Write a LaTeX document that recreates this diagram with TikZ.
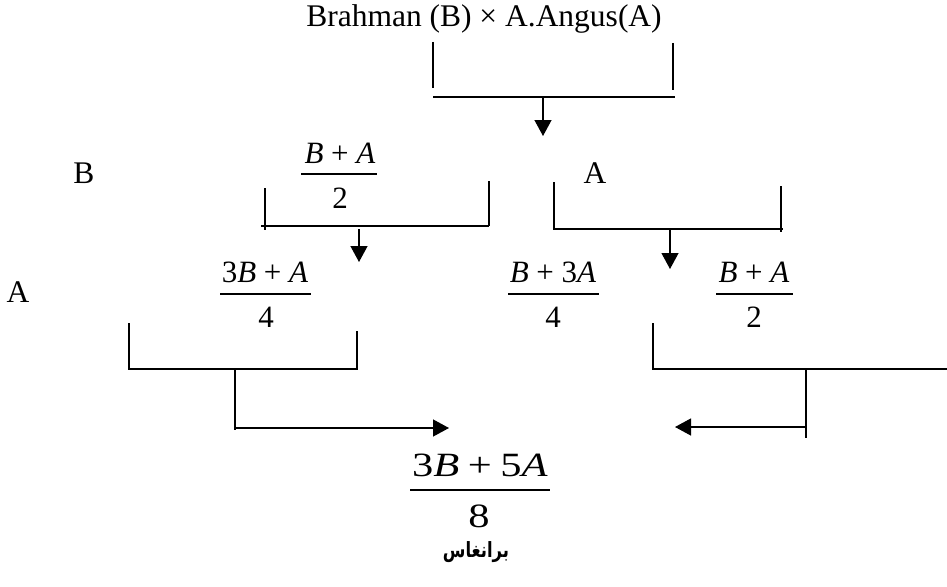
\documentclass[tikz,border=0pt]{standalone}
\usepackage{fontspec}
\setmainfont{Liberation Serif}
\newfontfamily\eqbig[FakeStretch=1.25]{Liberation Serif}
\newfontfamily\arabicfont[Script=Arabic,FakeStretch=0.78]{DejaVu Sans}
\TeXXeTstate=1
\usetikzlibrary{arrows.meta}
\newcommand\pl{\hspace{.25em}+\hspace{.25em}}
\tikzset{
  lab/.style={inner sep=0pt, anchor=base, font=\fontsize{31.5}{36}\selectfont},
  num/.style={inner sep=0pt, anchor=base, font={\fontsize{31}{36}\selectfont}},
  numbig/.style={inner sep=0pt, anchor=base, font={\eqbig\fontsize{34}{40}\selectfont}},
  arab/.style={inner sep=0pt, anchor=base, font={\arabicfont\bfseries\fontsize{21}{26}\selectfont}},
  ln/.style={line width=1.3pt},
  rul/.style={line width=1.1pt},
  arr/.style={line width=1.3pt, -{Triangle[width=17pt,length=16pt]}}
}
\begin{document}
\begin{tikzpicture}[x=1pt,y=-1pt]
\useasboundingbox (0,0) rectangle (947,586);
% title and labels
\node[lab] (title) at (484,27) {Brahman (B) × A.Angus(A)};
\node[lab] (lB) at (84,183) {B};
\node[lab] (lA1) at (18,302) {A};
\node[lab] (lA2) at (595,183) {A};
% fraction 1: (B+A)/2
\node[num] (f1n) at (340,163) {\textit{B}\pl\textit{A}};
\draw[rul] (301,174) -- (377,174);
\node[num] (f1d) at (340,208) {2};
% fraction 2: (3B+A)/4
\node[num] (f2n) at (265,282) {3\textit{B}\pl\textit{A}};
\draw[rul] (220,294) -- (311,294);
\node[num] (f2d) at (266,327) {4};
% fraction 3: (B+3A)/4
\node[num] (f3n) at (553,282) {\textit{B}\pl3\textit{A}};
\draw[rul] (508,294) -- (599,294);
\node[num] (f3d) at (553,327) {4};
% fraction 4: (B+A)/2
\node[num] (f4n) at (754,282) {\textit{B}\pl\textit{A}};
\draw[rul] (716,294) -- (793,294);
\node[num] (f4d) at (754,327) {2};
% fraction 5: (3B+5A)/8
\node[numbig] (f5n) at (480,476) {3\textit{B}\pl5\textit{A}};
\draw[rul] (410,490) -- (550,490);
\node[numbig] (f5d) at (479,527) {8};
\node[arab] (br) at (476,557) {\beginR برانغاس\endR};
% top bracket
\draw[ln] (433,42) -- (433,88);
\draw[ln] (673,43) -- (673,90);
\draw[ln] (433,97) -- (675,97);
\coordinate (t0) at (543,97);
\coordinate (t1) at (543,136);
\draw[arr] (t0) -- (t1);
% middle left bracket
\draw[ln] (265,188) -- (265,230);
\draw[ln] (261,226) -- (489,226);
\draw[ln] (489,181) -- (489,226);
\coordinate (m0) at (359,229);
\coordinate (m1) at (359,262);
\draw[arr] (m0) -- (m1);
% middle right bracket
\draw[ln] (554,182) -- (554,229) -- (783,229);
\draw[ln] (781,186) -- (781,232);
\coordinate (n0) at (670,229);
\coordinate (n1) at (670,269);
\draw[arr] (n0) -- (n1);
% bottom left bracket
\draw[ln] (129,323) -- (129,369) -- (357,369) -- (357,331);
\coordinate (b0) at (235,369);
\coordinate (b1) at (235,430);
\coordinate (b2) at (235,428);
\coordinate (b3) at (449,428);
\draw[ln] (b0) -- (b1);
\draw[arr] (b2) -- (b3);
% bottom right bracket
\draw[ln] (653,323) -- (653,369) -- (947,369);
\coordinate (c0) at (806,369);
\coordinate (c1) at (806,438);
\coordinate (c2) at (806,427);
\coordinate (c3) at (675,427);
\draw[ln] (c0) -- (c1);
\draw[arr] (c2) -- (c3);
\end{tikzpicture}
\end{document}
